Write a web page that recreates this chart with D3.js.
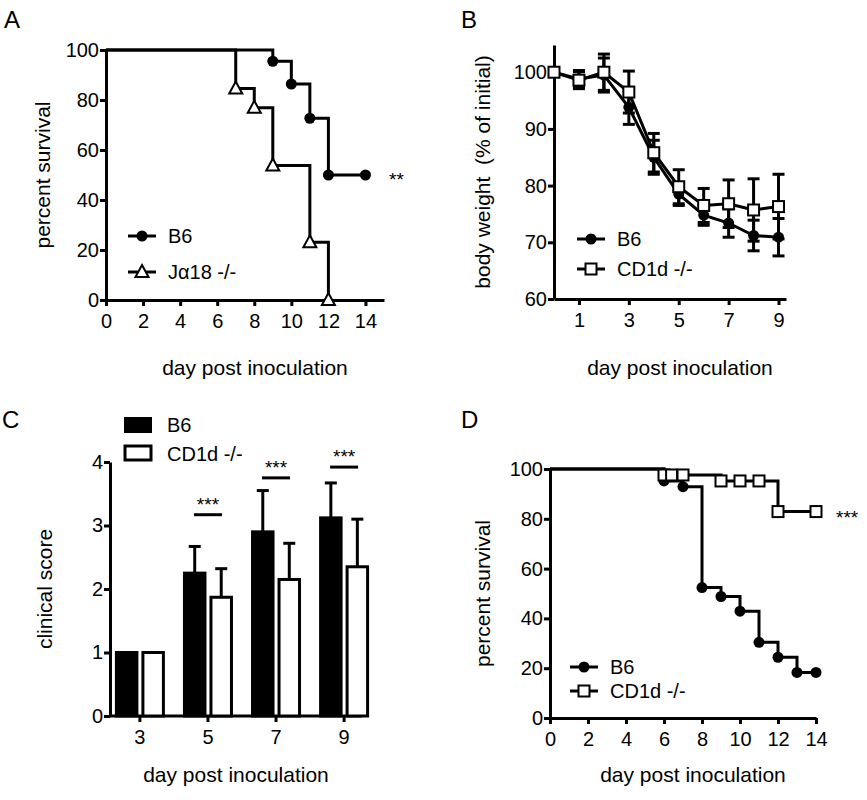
<!DOCTYPE html>
<html><head><meta charset="utf-8">
<script src="https://cdn.jsdelivr.net/npm/d3@7"></script>
<style>body{margin:0;background:#fff}text{font-family:"Liberation Sans",Arial,sans-serif;fill:#000;white-space:pre}</style>
</head><body><svg id="c" width="867" height="800"></svg>
<script>
// Panel A
const aDays = [0,9,10,11,12,14];
const aB6 = [100,95.5,86.4,72.7,50,50];
const aJDays = [0,7,8,9,11,12];
const aJa18 = [100,84.6,76.9,53.8,23.1,0];
// Panel B
const bDays = [0,1,2,3,4,5,6,7,8,9];
const bB6 = [100,98.8,99.5,93.8,85,78.5,74.8,73.4,71.2,70.9];
const bB6err = [0,1.5,3,3,3,2,1.8,2.5,2.7,3.3];
const bCD = [100,98.6,100,96.5,85.8,79.8,76.5,76.8,75.7,76.3];
const bCDerr = [0,1.5,3.2,3.7,3.4,3,3,4.2,5.5,5.7];
// Panel C
const cCats = ["3","5","7","9"];
const cB6 = [1,2.25,2.9,3.12];
const cB6err = [0,0.42,0.65,0.55];
const cCD = [1,1.87,2.15,2.35];
const cCDerr = [0,0.45,0.57,0.75];
const cSig = [null,3.17,3.75,3.92];
// Panel D
const dB6Days = [0,6,7,8,9,10,11,12,13,14];
const dB6 = [100,95.2,92.9,52.4,48.8,42.9,30.4,24.4,18.3,18.3];
const dCDDays = [0,6,6.4,7,9,10,11,12,14];
const dCD = [100,97.6,97.6,97.6,95.2,95.2,95.2,82.9,82.9];

const svg = d3.select("#c");
const font = 20, tfont = 21, lfont = 20, sw = 3;

function styleAxis(a){
  a.attr("font-size",null);
  a.select(".domain").attr("stroke-width",sw);
  a.selectAll(".tick line").attr("stroke-width",sw);
  a.selectAll("text").attr("font-size",font).style("font-size",font+"px");
}
function axes(g, x, y, xt, yt, yTitle, xTitle, yTitleX, xTitleY){
  const xa = g.append("g").attr("transform",`translate(0,${y.range()[0]})`)
    .call(d3.axisBottom(x).tickValues(xt).tickSize(6).tickSizeOuter(0).tickFormat(d3.format("d")));
  const ya = g.append("g").attr("transform",`translate(${x.range()[0]},0)`)
    .call(d3.axisLeft(y).tickValues(yt).tickSize(6).tickSizeOuter(0));
  styleAxis(xa); styleAxis(ya);
  xa.selectAll("text").attr("dy","0.95em");
  ya.selectAll("text").attr("x",-7);
  g.append("text").attr("transform",`translate(${yTitleX},${(y.range()[0]+y.range()[1])/2}) rotate(-90)`)
    .attr("text-anchor","middle").attr("font-size",tfont).text(yTitle);
  g.append("text").attr("x",(x.range()[0]+x.range()[1])/2+10).attr("y",xTitleY)
    .attr("text-anchor","middle").attr("font-size",tfont).text(xTitle);
}
function marker(g,type,cx,cy){
  if(type==="circle") g.append("circle").attr("cx",cx).attr("cy",cy).attr("r",5.5).attr("fill","#000");
  else if(type==="tri") g.append("path").attr("d",`M${cx},${cy-7}L${cx+6.5},${cy+5}L${cx-6.5},${cy+5}Z`).attr("fill","#fff").attr("stroke","#000").attr("stroke-width",2);
  else g.append("rect").attr("x",cx-5.5).attr("y",cy-5.5).attr("width",11).attr("height",11).attr("fill","#fff").attr("stroke","#000").attr("stroke-width",2);
}
function legend(g,x0,y0,dy,items){
  items.forEach((it,i)=>{
    const yy=y0+i*dy;
    g.append("line").attr("x1",x0).attr("x2",x0+28).attr("y1",yy).attr("y2",yy).attr("stroke","#000").attr("stroke-width",sw);
    marker(g,it[0],x0+14,yy);
    g.append("text").attr("x",x0+40).attr("y",yy+7).attr("font-size",lfont).text(it[1]);
  });
}
function step(g,x,y,days,vals,mk){
  const pts=days.map((d,i)=>[d,vals[i]]);
  g.append("path").datum(pts).attr("fill","none").attr("stroke","#000").attr("stroke-width",sw)
    .attr("d",d3.line().x(d=>x(d[0])).y(d=>y(d[1])).curve(d3.curveStepAfter));
  pts.forEach((p,i)=>{ if(i>0) marker(g,mk,x(p[0]),y(p[1])); });
}
function letter(t,x,y){ svg.append("text").attr("x",x).attr("y",y).attr("font-size",24).text(t); }

// ---- A
{
  const g=svg.append("g");
  const x=d3.scaleLinear().domain([0,15]).range([106,384]);
  const y=d3.scaleLinear().domain([0,100]).range([300,50]);
  axes(g,x,y,d3.range(0,15,2),[0,20,40,60,80,100],"percent survival","day post inoculation",50,375);
  step(g,x,y,aJDays,aJa18,"tri");
  step(g,x,y,aDays,aB6,"circle");
  legend(g,128,236,36,[["circle","B6"],["tri","J\u03b118 -/-"]]);
  g.append("text").attr("x",389).attr("y",186).attr("font-size",19).text("**");
  letter("A",4,28);
}
// ---- B
{
  const g=svg.append("g");
  const x=d3.scaleLinear().domain([0,9.3]).range([554,786]);
  const y=d3.scaleLinear().domain([60,104.8]).range([299,45]);
  axes(g,x,y,[1,3,5,7,9],[60,70,80,90,100],"body weight  (% of initial)","day post inoculation",490,375);
  [[bB6,bB6err],[bCD,bCDerr]].forEach(([v,e])=>{
    v.forEach((m,i)=>{ if(e[i]>0){
      const cx=x(bDays[i]);
      g.append("line").attr("x1",cx).attr("x2",cx).attr("y1",y(m-e[i])).attr("y2",y(m+e[i])).attr("stroke","#000").attr("stroke-width",sw);
      [m-e[i],m+e[i]].forEach(t=>g.append("line").attr("x1",cx-6).attr("x2",cx+6).attr("y1",y(t)).attr("y2",y(t)).attr("stroke","#000").attr("stroke-width",sw));
    }});
    g.append("path").datum(v).attr("fill","none").attr("stroke","#000").attr("stroke-width",sw)
      .attr("d",d3.line().x((d,i)=>x(bDays[i])).y(d=>y(d)));
  });
  bB6.forEach((m,i)=>marker(g,"circle",x(bDays[i]),y(m)));
  bCD.forEach((m,i)=>marker(g,"rect",x(bDays[i]),y(m)));
  legend(g,577,239,30,[["circle","B6"],["rect","CD1d -/-"]]);
  letter("B",461,28);
}
// ---- C
{
  const g=svg.append("g");
  const x=d3.scaleBand().domain(cCats).range([112,372]).paddingInner(0.28).paddingOuter(0.05);
  const y=d3.scaleLinear().domain([0,4]).range([716,462]);
  const xa=g.append("g").attr("transform","translate(0,716)").call(d3.axisBottom(x).tickSize(6).tickSizeOuter(0));
  xa.select(".domain").attr("d","M110,0H362");
  const ya=g.append("g").attr("transform","translate(110,0)").call(d3.axisLeft(y).ticks(4).tickSize(6).tickSizeOuter(0));
  styleAxis(xa); styleAxis(ya);
  xa.selectAll("text").attr("dy","0.95em");
  ya.selectAll("text").attr("x",-7);
  g.append("text").attr("transform","translate(52,589) rotate(-90)").attr("text-anchor","middle").attr("font-size",tfont).text("clinical score");
  g.append("text").attr("x",236).attr("y",782).attr("text-anchor","middle").attr("font-size",tfont).text("day post inoculation");
  const bw=x.bandwidth()/2;
  cCats.forEach((c,i)=>{
    [[cB6[i],cB6err[i],"#000",x(c)+1],[cCD[i],cCDerr[i],"#fff",x(c)+bw+3]].forEach(([v,e,f,bx])=>{
      const w=bw-4;
      if(e>0){
        g.append("line").attr("x1",bx+w/2).attr("x2",bx+w/2).attr("y1",y(v)).attr("y2",y(v+e)).attr("stroke","#000").attr("stroke-width",sw);
        g.append("line").attr("x1",bx+w/2-6).attr("x2",bx+w/2+6).attr("y1",y(v+e)).attr("y2",y(v+e)).attr("stroke","#000").attr("stroke-width",sw);
      }
      g.append("rect").attr("x",bx).attr("y",y(v)).attr("width",w).attr("height",y(0)-y(v)).attr("fill",f).attr("stroke","#000").attr("stroke-width",sw);
    });
    if(cSig[i]!=null){
      const cx=x(c)+x.bandwidth()/2;
      g.append("line").attr("x1",cx-14).attr("x2",cx+14).attr("y1",y(cSig[i])).attr("y2",y(cSig[i])).attr("stroke","#000").attr("stroke-width",3);
      g.append("text").attr("x",cx).attr("y",y(cSig[i])-4).attr("text-anchor","middle").attr("font-size",19).text("***");
    }
  });
  g.append("rect").attr("x",124).attr("y",417).attr("width",28).attr("height",16).attr("fill","#000");
  g.append("rect").attr("x",125).attr("y",446).attr("width",26).attr("height",14).attr("fill","#fff").attr("stroke","#000").attr("stroke-width",sw);
  g.append("text").attr("x",167).attr("y",432).attr("font-size",lfont).text("B6");
  g.append("text").attr("x",167).attr("y",461).attr("font-size",lfont).text("CD1d -/-");
  letter("C",2,428);
}
// ---- D
{
  const g=svg.append("g");
  const x=d3.scaleLinear().domain([0,14]).range([550,816]);
  const y=d3.scaleLinear().domain([0,100]).range([718,469]);
  axes(g,x,y,d3.range(0,15,2),[0,20,40,60,80,100],"percent survival","day post inoculation",490,782);
  step(g,x,y,dB6Days,dB6,"circle");
  step(g,x,y,dCDDays,dCD,"rect");
  legend(g,570,667,24,[["circle","B6"],["rect","CD1d -/-"]]);
  g.append("text").attr("x",836).attr("y",524).attr("font-size",19).text("***");
  letter("D",461,428);
}
</script></body></html>
